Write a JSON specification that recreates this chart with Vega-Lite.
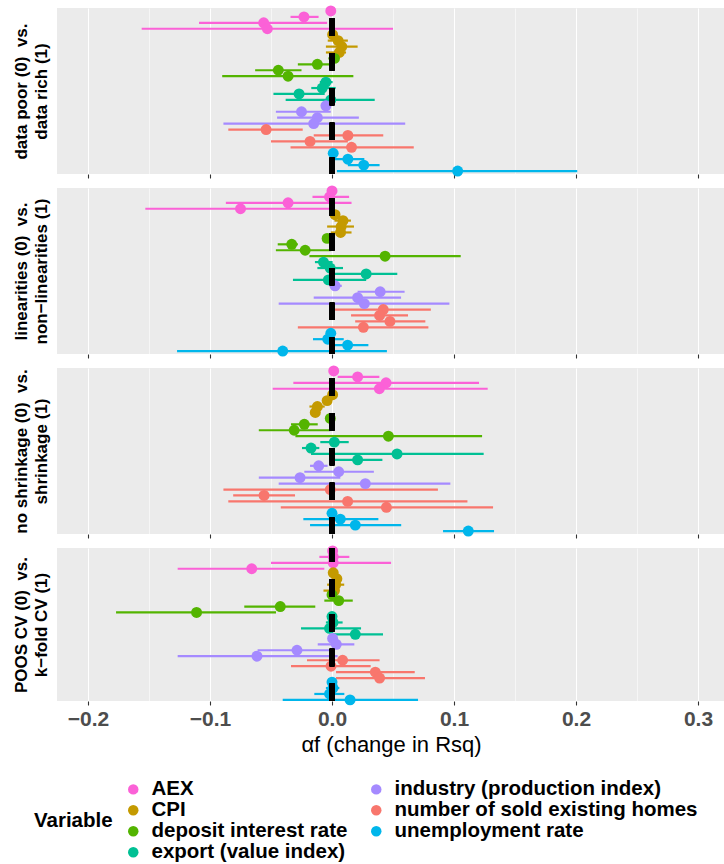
{
"$schema": "https://vega.github.io/schema/vega-lite/v6.json",
"padding": {"left": 11, "top": 5, "right": 0, "bottom": 0},
"bounds": "flush",
"spacing": 14,
"datasets": {"d": [
{"p":1,"variable":"AEX","h":1,"est":-0.001,"lo":-0.003,"hi":0.002},
{"p":1,"variable":"AEX","h":2,"est":-0.023,"lo":-0.034,"hi":-0.011},
{"p":1,"variable":"AEX","h":3,"est":-0.056,"lo":-0.109,"hi":-0.004},
{"p":1,"variable":"AEX","h":4,"est":-0.053,"lo":-0.156,"hi":0.050},
{"p":1,"variable":"CPI","h":1,"est":0.0005,"lo":-0.002,"hi":0.004},
{"p":1,"variable":"CPI","h":2,"est":0.005,"lo":-0.0035,"hi":0.013},
{"p":1,"variable":"CPI","h":3,"est":0.008,"lo":-0.005,"hi":0.021},
{"p":1,"variable":"CPI","h":4,"est":0.006,"lo":-0.005,"hi":0.0115},
{"p":1,"variable":"deposit interest rate","h":1,"est":0.002,"lo":-0.003,"hi":0.006},
{"p":1,"variable":"deposit interest rate","h":2,"est":-0.012,"lo":-0.028,"hi":-0.002},
{"p":1,"variable":"deposit interest rate","h":3,"est":-0.044,"lo":-0.063,"hi":-0.025},
{"p":1,"variable":"deposit interest rate","h":4,"est":-0.036,"lo":-0.090,"hi":0.0175},
{"p":1,"variable":"export (value index)","h":1,"est":-0.005,"lo":-0.010,"hi":0.0005},
{"p":1,"variable":"export (value index)","h":2,"est":-0.008,"lo":-0.017,"hi":0.003},
{"p":1,"variable":"export (value index)","h":3,"est":-0.027,"lo":-0.048,"hi":-0.006},
{"p":1,"variable":"export (value index)","h":4,"est":-0.001,"lo":-0.038,"hi":0.035},
{"p":1,"variable":"industry (production index)","h":1,"est":-0.005,"lo":-0.009,"hi":-0.001},
{"p":1,"variable":"industry (production index)","h":2,"est":-0.025,"lo":-0.046,"hi":-0.001},
{"p":1,"variable":"industry (production index)","h":3,"est":-0.012,"lo":-0.045,"hi":0.022},
{"p":1,"variable":"industry (production index)","h":4,"est":-0.015,"lo":-0.089,"hi":0.060},
{"p":1,"variable":"number of sold existing homes","h":1,"est":-0.054,"lo":-0.085,"hi":-0.024},
{"p":1,"variable":"number of sold existing homes","h":2,"est":0.013,"lo":-0.015,"hi":0.042},
{"p":1,"variable":"number of sold existing homes","h":3,"est":-0.018,"lo":-0.050,"hi":0.013},
{"p":1,"variable":"number of sold existing homes","h":4,"est":0.016,"lo":-0.034,"hi":0.067},
{"p":1,"variable":"unemployment rate","h":1,"est":0.001,"lo":-0.002,"hi":0.004},
{"p":1,"variable":"unemployment rate","h":2,"est":0.013,"lo":-0.001,"hi":0.0265},
{"p":1,"variable":"unemployment rate","h":3,"est":0.026,"lo":0.013,"hi":0.039},
{"p":1,"variable":"unemployment rate","h":4,"est":0.103,"lo":0.004,"hi":0.201},
{"p":2,"variable":"AEX","h":1,"est":0.000,"lo":-0.002,"hi":0.002},
{"p":2,"variable":"AEX","h":2,"est":-0.002,"lo":-0.016,"hi":0.014},
{"p":2,"variable":"AEX","h":3,"est":-0.036,"lo":-0.087,"hi":0.016},
{"p":2,"variable":"AEX","h":4,"est":-0.075,"lo":-0.153,"hi":-0.001},
{"p":2,"variable":"CPI","h":1,"est":0.0025,"lo":-0.001,"hi":0.006},
{"p":2,"variable":"CPI","h":2,"est":0.009,"lo":0.002,"hi":0.0155},
{"p":2,"variable":"CPI","h":3,"est":0.0075,"lo":-0.004,"hi":0.018},
{"p":2,"variable":"CPI","h":4,"est":0.007,"lo":-0.001,"hi":0.016},
{"p":2,"variable":"deposit interest rate","h":1,"est":-0.004,"lo":-0.007,"hi":0.0},
{"p":2,"variable":"deposit interest rate","h":2,"est":-0.033,"lo":-0.0445,"hi":-0.028},
{"p":2,"variable":"deposit interest rate","h":3,"est":-0.022,"lo":-0.046,"hi":-0.001},
{"p":2,"variable":"deposit interest rate","h":4,"est":0.0435,"lo":-0.0185,"hi":0.1055},
{"p":2,"variable":"export (value index)","h":1,"est":-0.007,"lo":-0.014,"hi":0.0005},
{"p":2,"variable":"export (value index)","h":2,"est":-0.0015,"lo":-0.012,"hi":0.009},
{"p":2,"variable":"export (value index)","h":3,"est":0.028,"lo":-0.001,"hi":0.0535},
{"p":2,"variable":"export (value index)","h":4,"est":-0.003,"lo":-0.032,"hi":0.028},
{"p":2,"variable":"industry (production index)","h":1,"est":0.0025,"lo":-0.002,"hi":0.008},
{"p":2,"variable":"industry (production index)","h":2,"est":0.0395,"lo":0.021,"hi":0.0595},
{"p":2,"variable":"industry (production index)","h":3,"est":0.021,"lo":-0.015,"hi":0.0566},
{"p":2,"variable":"industry (production index)","h":4,"est":0.0265,"lo":-0.0437,"hi":0.0962},
{"p":2,"variable":"number of sold existing homes","h":1,"est":0.042,"lo":0.0025,"hi":0.081},
{"p":2,"variable":"number of sold existing homes","h":2,"est":0.039,"lo":0.0156,"hi":0.0623},
{"p":2,"variable":"number of sold existing homes","h":3,"est":0.0475,"lo":0.019,"hi":0.0765},
{"p":2,"variable":"number of sold existing homes","h":4,"est":0.0257,"lo":-0.028,"hi":0.079},
{"p":2,"variable":"unemployment rate","h":1,"est":-0.001,"lo":-0.004,"hi":0.002},
{"p":2,"variable":"unemployment rate","h":2,"est":-0.0035,"lo":-0.0156,"hi":0.0096},
{"p":2,"variable":"unemployment rate","h":3,"est":0.0128,"lo":0.0,"hi":0.0298},
{"p":2,"variable":"unemployment rate","h":4,"est":-0.0404,"lo":-0.127,"hi":0.045},
{"p":3,"variable":"AEX","h":1,"est":0.0014,"lo":-0.001,"hi":0.004},
{"p":3,"variable":"AEX","h":2,"est":0.021,"lo":0.0046,"hi":0.0388},
{"p":3,"variable":"AEX","h":3,"est":0.0443,"lo":-0.0317,"hi":0.1205},
{"p":3,"variable":"AEX","h":4,"est":0.0388,"lo":-0.0486,"hi":0.1276},
{"p":3,"variable":"CPI","h":1,"est":0.0005,"lo":-0.002,"hi":0.003},
{"p":3,"variable":"CPI","h":2,"est":-0.004,"lo":-0.007,"hi":-0.001},
{"p":3,"variable":"CPI","h":3,"est":-0.012,"lo":-0.0185,"hi":-0.006},
{"p":3,"variable":"CPI","h":4,"est":-0.0137,"lo":-0.0165,"hi":-0.011},
{"p":3,"variable":"deposit interest rate","h":1,"est":-0.0014,"lo":-0.004,"hi":0.001},
{"p":3,"variable":"deposit interest rate","h":2,"est":-0.0227,"lo":-0.0336,"hi":-0.0117},
{"p":3,"variable":"deposit interest rate","h":3,"est":-0.031,"lo":-0.060,"hi":-0.0014},
{"p":3,"variable":"deposit interest rate","h":4,"est":0.0462,"lo":-0.030,"hi":0.123},
{"p":3,"variable":"export (value index)","h":1,"est":0.0019,"lo":-0.0096,"hi":0.0137},
{"p":3,"variable":"export (value index)","h":2,"est":-0.0172,"lo":-0.0246,"hi":-0.0104},
{"p":3,"variable":"export (value index)","h":3,"est":0.0533,"lo":-0.0172,"hi":0.1243},
{"p":3,"variable":"export (value index)","h":4,"est":0.021,"lo":0.0019,"hi":0.0413},
{"p":3,"variable":"industry (production index)","h":1,"est":-0.0109,"lo":-0.018,"hi":-0.0036},
{"p":3,"variable":"industry (production index)","h":2,"est":0.0055,"lo":-0.0227,"hi":0.0343},
{"p":3,"variable":"industry (production index)","h":3,"est":-0.0262,"lo":-0.060,"hi":0.0068},
{"p":3,"variable":"industry (production index)","h":4,"est":0.0273,"lo":-0.0437,"hi":0.097},
{"p":3,"variable":"number of sold existing homes","h":1,"est":-0.0014,"lo":-0.089,"hi":0.0868},
{"p":3,"variable":"number of sold existing homes","h":2,"est":-0.0557,"lo":-0.081,"hi":-0.0303},
{"p":3,"variable":"number of sold existing homes","h":3,"est":0.0128,"lo":-0.085,"hi":0.111},
{"p":3,"variable":"number of sold existing homes","h":4,"est":0.0446,"lo":-0.042,"hi":0.132},
{"p":3,"variable":"unemployment rate","h":1,"est":0.0,"lo":-0.002,"hi":0.002},
{"p":3,"variable":"unemployment rate","h":2,"est":0.0068,"lo":-0.0235,"hi":0.038},
{"p":3,"variable":"unemployment rate","h":3,"est":0.0191,"lo":-0.018,"hi":0.0567},
{"p":3,"variable":"unemployment rate","h":4,"est":0.1117,"lo":0.091,"hi":0.1328},
{"p":4,"variable":"AEX","h":1,"est":0.0005,"lo":-0.002,"hi":0.003},
{"p":4,"variable":"AEX","h":2,"est":0.001,"lo":-0.0104,"hi":0.0142},
{"p":4,"variable":"AEX","h":3,"est":0.001,"lo":-0.050,"hi":0.0484},
{"p":4,"variable":"AEX","h":4,"est":-0.0658,"lo":-0.1265,"hi":-0.0063},
{"p":4,"variable":"CPI","h":1,"est":0.001,"lo":-0.002,"hi":0.004},
{"p":4,"variable":"CPI","h":2,"est":0.004,"lo":0.0,"hi":0.008},
{"p":4,"variable":"CPI","h":3,"est":0.003,"lo":-0.004,"hi":0.010},
{"p":4,"variable":"CPI","h":4,"est":0.002,"lo":-0.007,"hi":0.006},
{"p":4,"variable":"deposit interest rate","h":1,"est":0.0,"lo":-0.003,"hi":0.003},
{"p":4,"variable":"deposit interest rate","h":2,"est":0.0055,"lo":-0.0063,"hi":0.017},
{"p":4,"variable":"deposit interest rate","h":3,"est":-0.0424,"lo":-0.0719,"hi":-0.0137},
{"p":4,"variable":"deposit interest rate","h":4,"est":-0.111,"lo":-0.177,"hi":-0.0459},
{"p":4,"variable":"export (value index)","h":1,"est":0.0,"lo":-0.004,"hi":0.003},
{"p":4,"variable":"export (value index)","h":2,"est":0.0008,"lo":-0.005,"hi":0.0087},
{"p":4,"variable":"export (value index)","h":3,"est":-0.002,"lo":-0.0254,"hi":0.0238},
{"p":4,"variable":"export (value index)","h":4,"est":0.0191,"lo":0.0008,"hi":0.0418},
{"p":4,"variable":"industry (production index)","h":1,"est":0.0005,"lo":-0.002,"hi":0.003},
{"p":4,"variable":"industry (production index)","h":2,"est":0.0035,"lo":-0.0117,"hi":0.0183},
{"p":4,"variable":"industry (production index)","h":3,"est":-0.0287,"lo":-0.061,"hi":0.002},
{"p":4,"variable":"industry (production index)","h":4,"est":-0.0615,"lo":-0.1265,"hi":0.0046},
{"p":4,"variable":"number of sold existing homes","h":1,"est":0.0087,"lo":-0.0205,"hi":0.039},
{"p":4,"variable":"number of sold existing homes","h":2,"est":-0.0008,"lo":-0.0336,"hi":0.0317},
{"p":4,"variable":"number of sold existing homes","h":3,"est":0.0355,"lo":0.0033,"hi":0.0678},
{"p":4,"variable":"number of sold existing homes","h":4,"est":0.039,"lo":0.0033,"hi":0.0762},
{"p":4,"variable":"unemployment rate","h":1,"est":0.0,"lo":-0.002,"hi":0.002},
{"p":4,"variable":"unemployment rate","h":2,"est":0.0008,"lo":-0.005,"hi":0.006},
{"p":4,"variable":"unemployment rate","h":3,"est":-0.002,"lo":-0.0145,"hi":0.0101},
{"p":4,"variable":"unemployment rate","h":4,"est":0.0148,"lo":-0.0404,"hi":0.0705}
]},
"vconcat": [
{"width": 668, "height": 166, "data": {"name": "d"}, "transform": [{"filter": "datum.p == 1"}],
 "layer": [
  {"mark": {"type": "rule", "strokeWidth": 2.2}, "encoding": {
    "x": {"field": "lo", "type": "quantitative", "scale": {"domain": [-0.2254, 0.3221], "nice": false, "zero": false}, "axis": {"values": [-0.2,-0.15,-0.1,-0.05,0,0.05,0.1,0.15,0.2,0.25,0.3], "labels": false, "title": null, "domain": false, "gridColor": "white", "gridWidth": {"condition": {"test": "abs(datum.value*10 - round(datum.value*10)) > 0.01", "value": 0.55}, "value": 1.1}, "tickOpacity": {"condition": {"test": "abs(datum.value*10 - round(datum.value*10)) > 0.01", "value": 0}, "value": 1}}},
    "x2": {"field": "hi"},
    "y": {"field": "variable", "type": "nominal", "sort": ["AEX","CPI","deposit interest rate","export (value index)","industry (production index)","number of sold existing homes","unemployment rate"], "scale": {"type": "band", "paddingInner": 0, "paddingOuter": 0}, "axis": {"title": ["data poor (0)\u00a0 vs.", "data rich (1)"], "labels": false, "ticks": false, "domain": false, "grid": false, "titleX": -36, "titleY": 83}},
    "yOffset": {"field": "h", "type": "ordinal", "scale": {"type": "point", "padding": 0.5}},
    "color": {"field": "variable", "type": "nominal", "scale": {"domain": ["AEX","CPI","deposit interest rate","export (value index)","industry (production index)","number of sold existing homes","unemployment rate"], "range": ["#FB61D7","#C49A00","#53B400","#00C094","#A58AFF","#F8766D","#00B6EB"]}}
  }},
  {"mark": {"type": "point", "filled": true, "size": 120, "opacity": 1}, "encoding": {
    "x": {"field": "est", "type": "quantitative"},
    "y": {"field": "variable", "type": "nominal", "sort": ["AEX","CPI","deposit interest rate","export (value index)","industry (production index)","number of sold existing homes","unemployment rate"]},
    "yOffset": {"field": "h", "type": "ordinal"},
    "color": {"field": "variable", "type": "nominal", "legend": {"title": "Variable", "orient": "none", "legendX": -23, "legendY": 771, "columns": 2, "titleOrient": "left", "titleAnchor": "middle"}}
  }},
  {"mark": {"type": "rule", "strokeWidth": 4.3, "strokeDash": [17.4, 17.4], "strokeDashOffset": 24.5, "color": "black"}, "encoding": {"x": {"datum": 0}}}
 ]},
{"width": 668, "height": 166, "data": {"name": "d"}, "transform": [{"filter": "datum.p == 2"}],
 "layer": [
  {"mark": {"type": "rule", "strokeWidth": 2.2}, "encoding": {
    "x": {"field": "lo", "type": "quantitative", "scale": {"domain": [-0.2254, 0.3221], "nice": false, "zero": false}, "axis": {"values": [-0.2,-0.15,-0.1,-0.05,0,0.05,0.1,0.15,0.2,0.25,0.3], "labels": false, "title": null, "domain": false, "gridColor": "white", "gridWidth": {"condition": {"test": "abs(datum.value*10 - round(datum.value*10)) > 0.01", "value": 0.55}, "value": 1.1}, "tickOpacity": {"condition": {"test": "abs(datum.value*10 - round(datum.value*10)) > 0.01", "value": 0}, "value": 1}}},
    "x2": {"field": "hi"},
    "y": {"field": "variable", "type": "nominal", "sort": ["AEX","CPI","deposit interest rate","export (value index)","industry (production index)","number of sold existing homes","unemployment rate"], "scale": {"type": "band", "paddingInner": 0, "paddingOuter": 0}, "axis": {"title": ["linearities (0)\u00a0 vs.", "non−linearities (1)"], "labels": false, "ticks": false, "domain": false, "grid": false, "titleX": -36, "titleY": 83}},
    "yOffset": {"field": "h", "type": "ordinal", "scale": {"type": "point", "padding": 0.5}},
    "color": {"field": "variable", "type": "nominal"}
  }},
  {"mark": {"type": "point", "filled": true, "size": 120, "opacity": 1}, "encoding": {
    "x": {"field": "est", "type": "quantitative"},
    "y": {"field": "variable", "type": "nominal", "sort": ["AEX","CPI","deposit interest rate","export (value index)","industry (production index)","number of sold existing homes","unemployment rate"]},
    "yOffset": {"field": "h", "type": "ordinal"},
    "color": {"field": "variable", "type": "nominal"}
  }},
  {"mark": {"type": "rule", "strokeWidth": 4.3, "strokeDash": [17.4, 17.4], "strokeDashOffset": 24.5, "color": "black"}, "encoding": {"x": {"datum": 0}}}
 ]},
{"width": 668, "height": 166, "data": {"name": "d"}, "transform": [{"filter": "datum.p == 3"}],
 "layer": [
  {"mark": {"type": "rule", "strokeWidth": 2.2}, "encoding": {
    "x": {"field": "lo", "type": "quantitative", "scale": {"domain": [-0.2254, 0.3221], "nice": false, "zero": false}, "axis": {"values": [-0.2,-0.15,-0.1,-0.05,0,0.05,0.1,0.15,0.2,0.25,0.3], "labels": false, "title": null, "domain": false, "gridColor": "white", "gridWidth": {"condition": {"test": "abs(datum.value*10 - round(datum.value*10)) > 0.01", "value": 0.55}, "value": 1.1}, "tickOpacity": {"condition": {"test": "abs(datum.value*10 - round(datum.value*10)) > 0.01", "value": 0}, "value": 1}}},
    "x2": {"field": "hi"},
    "y": {"field": "variable", "type": "nominal", "sort": ["AEX","CPI","deposit interest rate","export (value index)","industry (production index)","number of sold existing homes","unemployment rate"], "scale": {"type": "band", "paddingInner": 0, "paddingOuter": 0}, "axis": {"title": ["no shrinkage (0)\u00a0 vs.", "shrinkage (1)"], "labels": false, "ticks": false, "domain": false, "grid": false, "titleX": -36, "titleY": 83}},
    "yOffset": {"field": "h", "type": "ordinal", "scale": {"type": "point", "padding": 0.5}},
    "color": {"field": "variable", "type": "nominal"}
  }},
  {"mark": {"type": "point", "filled": true, "size": 120, "opacity": 1}, "encoding": {
    "x": {"field": "est", "type": "quantitative"},
    "y": {"field": "variable", "type": "nominal", "sort": ["AEX","CPI","deposit interest rate","export (value index)","industry (production index)","number of sold existing homes","unemployment rate"]},
    "yOffset": {"field": "h", "type": "ordinal"},
    "color": {"field": "variable", "type": "nominal"}
  }},
  {"mark": {"type": "rule", "strokeWidth": 4.3, "strokeDash": [17.4, 17.4], "strokeDashOffset": 24.5, "color": "black"}, "encoding": {"x": {"datum": 0}}}
 ]},
{"width": 668, "height": 153, "data": {"name": "d"}, "transform": [{"filter": "datum.p == 4"}],
 "layer": [
  {"mark": {"type": "rule", "strokeWidth": 2.2}, "encoding": {
    "x": {"field": "lo", "type": "quantitative", "scale": {"domain": [-0.2254, 0.3221], "nice": false, "zero": false}, "axis": {"values": [-0.2,-0.15,-0.1,-0.05,0,0.05,0.1,0.15,0.2,0.25,0.3], "labelExpr": "abs(datum.value*10 - round(datum.value*10)) > 0.01 ? '' : format(datum.value, '.1f')", "title": "αf (change in Rsq)", "domain": false, "gridColor": "white", "gridWidth": {"condition": {"test": "abs(datum.value*10 - round(datum.value*10)) > 0.01", "value": 0.55}, "value": 1.1}, "tickOpacity": {"condition": {"test": "abs(datum.value*10 - round(datum.value*10)) > 0.01", "value": 0}, "value": 1}}},
    "x2": {"field": "hi"},
    "y": {"field": "variable", "type": "nominal", "sort": ["AEX","CPI","deposit interest rate","export (value index)","industry (production index)","number of sold existing homes","unemployment rate"], "scale": {"type": "band", "paddingInner": 0, "paddingOuter": 0}, "axis": {"title": ["POOS CV (0)\u00a0 vs.", "k−fold CV (1)"], "labels": false, "ticks": false, "domain": false, "grid": false, "titleX": -36, "titleY": 76.5}},
    "yOffset": {"field": "h", "type": "ordinal", "scale": {"type": "point", "padding": 0.5}},
    "color": {"field": "variable", "type": "nominal"}
  }},
  {"mark": {"type": "point", "filled": true, "size": 120, "opacity": 1}, "encoding": {
    "x": {"field": "est", "type": "quantitative"},
    "y": {"field": "variable", "type": "nominal", "sort": ["AEX","CPI","deposit interest rate","export (value index)","industry (production index)","number of sold existing homes","unemployment rate"]},
    "yOffset": {"field": "h", "type": "ordinal"},
    "color": {"field": "variable", "type": "nominal"}
  }},
  {"mark": {"type": "rule", "strokeWidth": 4.3, "strokeDash": [17.4, 17.4], "strokeDashOffset": 3.6, "color": "black"}, "encoding": {"x": {"datum": 0}}}
 ]}
],
"config": {
  "font": "Liberation Sans",
  "view": {"fill": "#EBEBEB", "stroke": null},
  "axis": {"tickColor": "#333333", "tickSize": 4, "tickWidth": 1.1, "labelFontSize": 21, "labelFontWeight": "bold", "labelColor": "#4D4D4D", "labelPadding": 3, "titleFontSize": 22, "titleFontWeight": "normal", "titleColor": "black", "titlePadding": 5},
  "axisY": {"titleFontSize": 17, "titleFontWeight": "bold", "titleLineHeight": 20, "titleAngle": -90, "titleAlign": "center", "titleBaseline": "middle"},
  "legend": {"labelFontSize": 20.5, "labelFontWeight": "bold", "labelColor": "black", "labelLimit": 0, "titleFontSize": 20.5, "titleFontWeight": "bold", "titleColor": "black", "symbolType": "circle", "symbolSize": 110, "symbolStrokeWidth": 0, "rowPadding": 0, "columnPadding": 18, "labelOffset": 8, "titlePadding": 10}
}
}
